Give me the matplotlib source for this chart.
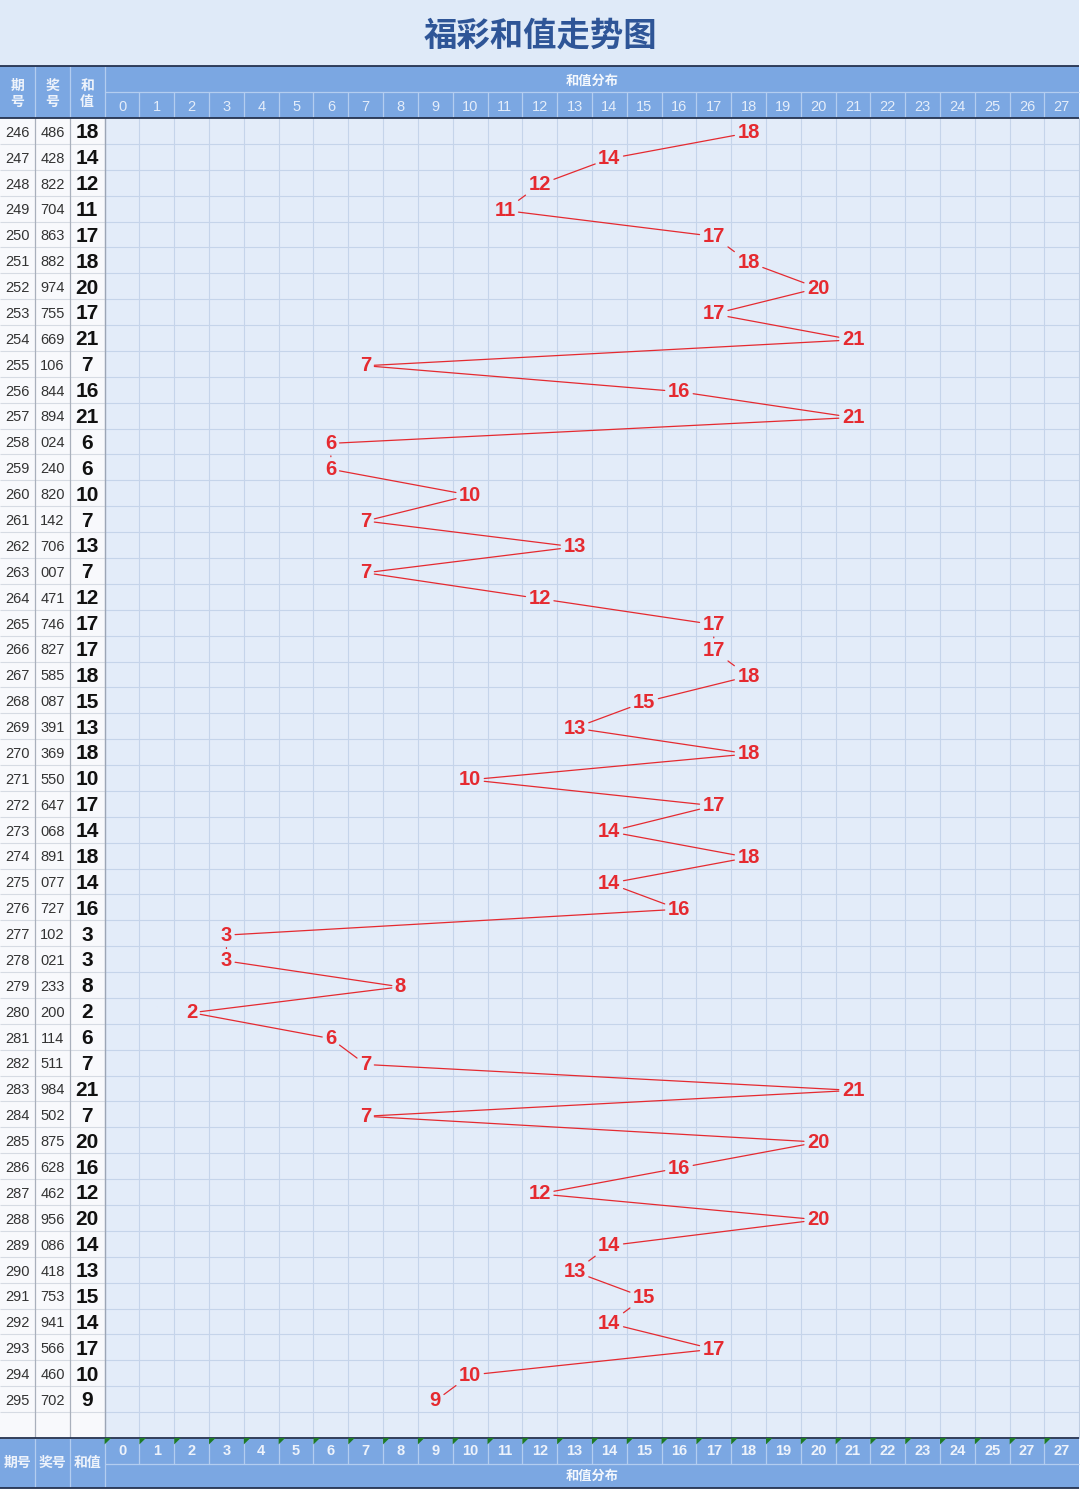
import matplotlib
matplotlib.use('Agg')
import matplotlib.pyplot as plt
from matplotlib.patches import Rectangle, Polygon

# ---------------- data ----------------
periods = list(range(246, 296))
numbers = ['486', '428', '822', '704', '863', '882', '974', '755', '669', '106',
           '844', '894', '024', '240', '820', '142', '706', '007', '471', '746',
           '827', '585', '087', '391', '369', '550', '647', '068', '891', '077',
           '727', '102', '021', '233', '200', '114', '511', '984', '502', '875',
           '628', '462', '956', '086', '418', '753', '941', '566', '460', '702']
sums = [18, 14, 12, 11, 17, 18, 20, 17, 21, 7,
        16, 21, 6, 6, 10, 7, 13, 7, 12, 17,
        17, 18, 15, 13, 18, 10, 17, 14, 18, 14,
        16, 3, 3, 8, 2, 6, 7, 21, 7, 20,
        16, 12, 20, 14, 13, 15, 14, 17, 10, 9]
sum_values = list(range(28))
top_labels = [str(v) for v in sum_values]
bottom_labels = [str(v) for v in range(26)] + ['27', '27']
title = '福彩和值走势图'
left_headers = ['期号', '奖号', '和值']
dist_header = '和值分布'

# ---------------- style ----------------
plt.rcParams['font.family'] = ['Noto Sans CJK SC', 'DejaVu Sans']
NUMFONT = ['Liberation Sans', 'DejaVu Sans']
RED = '#E52A30'
HEAD_BLUE = '#7BA7E2'
GRID_BG = '#E3ECF9'
GRID_LINE = '#C5D4EA'
TITLE_BG = '#DFEAF8'
DARK = '#24324F'

fig = plt.figure(figsize=(10.8, 14.89), dpi=100)
ax = fig.add_axes([0, 0, 1, 1])
ax.axis('off')
colw, rowh = 34.81, 25.88
ax.set_xlim(-122 / colw, (1080 - 122) / colw)
ax.set_ylim((1489 - 131) / rowh, -131 / rowh)
y_top = -131 / rowh
dy = 0.07  # small downward nudge for text centring

n = len(periods)
x_left = -3.5
x_grid0 = -0.5
x_grid1 = len(sum_values) - 0.5
rows_end = n + 0.5          # includes one empty row
foot_top = rows_end
foot_bot = foot_top + 1.92

# title band
ax.add_patch(Rectangle((x_left, y_top), x_grid1 - x_left, -2.5 - y_top, fc=TITLE_BG, ec='none', zorder=0))
ax.text(0.5, 1 - 36 / 1489, title, transform=ax.transAxes, ha='center', va='center', fontsize=24,
        fontweight='bold', color='#2E5597', zorder=5)

# header band
ax.add_patch(Rectangle((x_left, -2.5), x_grid1 - x_left, 2.0, fc=HEAD_BLUE, ec='none', zorder=1))
# footer band
ax.add_patch(Rectangle((x_left, foot_top), x_grid1 - x_left, foot_bot - foot_top, fc=HEAD_BLUE, ec='none', zorder=1))

# left columns background and grid background
ax.add_patch(Rectangle((x_left, -0.5), 3.0, rows_end + 0.5, fc='#F8F9FC', ec='none', zorder=0))
ax.add_patch(Rectangle((x_grid0, -0.5), x_grid1 - x_grid0, rows_end + 0.5, fc=GRID_BG, ec='none', zorder=0))

# grid lines
ax.vlines([k - 0.5 for k in sum_values] + [x_grid1], -0.5, rows_end, colors=GRID_LINE, lw=0.8, zorder=1)
ax.hlines([i + 0.5 for i in range(n + 1)], x_grid0, x_grid1, colors=GRID_LINE, lw=0.8, zorder=1)
ax.hlines([i + 0.5 for i in range(n + 1)], x_left, x_grid0, colors='#D6DBE3', lw=0.8, zorder=1)
ax.vlines([-2.5, -1.5], -0.5, rows_end, colors='#A9B0BC', lw=0.9, zorder=2)
ax.vlines([x_grid0], -0.5, rows_end, colors='#9CA6B6', lw=1.0, zorder=2)
ax.vlines([x_grid1 + 0.01], -0.5, rows_end, colors='#B0B8C6', lw=1.0, zorder=2)

# header/footer inner lines
HL = '#B3CDF0'
ax.vlines([-2.5, -1.5, -0.5], -2.5, -0.5, colors=HL, lw=0.9, zorder=2)
ax.vlines([k - 0.5 for k in sum_values[1:]], -1.5, -0.5, colors=HL, lw=0.9, zorder=2)
ax.hlines([-1.5], x_grid0, x_grid1, colors=HL, lw=0.9, zorder=2)
ax.vlines([-2.5, -1.5, -0.5], foot_top, foot_bot, colors=HL, lw=0.9, zorder=2)
ax.vlines([k - 0.5 for k in sum_values[1:]], foot_top, foot_top + 1, colors=HL, lw=0.9, zorder=2)
ax.hlines([foot_top + 1], x_grid0, x_grid1, colors=HL, lw=0.9, zorder=2)
ax.hlines([-2.5, -0.5, foot_top, foot_bot], x_left, x_grid1, colors=DARK, lw=1.3, zorder=3)

# header texts
for j, lab in enumerate(left_headers):
    ax.text(-3 + j, -1.5 + dy, lab[0] + '\n' + lab[1], ha='center', va='center', fontsize=10,
            fontweight='bold', color='#EEF3FB', linespacing=1.25, zorder=5)
    ax.text(-3 + j, (foot_top + foot_bot) / 2, lab, ha='center', va='center', fontsize=10,
            fontweight='bold', color='#EEF3FB', zorder=5)
ax.text(13.5, -2.0 + dy, dist_header, ha='center', va='center', fontsize=9.5, fontweight='bold',
        color='#F4F8FD', zorder=5)
ax.text(13.5, foot_top + 1.45, dist_header, ha='center', va='center', fontsize=9.5, fontweight='bold',
        color='#F4F8FD', zorder=5)
for v, lt, lb in zip(sum_values, top_labels, bottom_labels):
    ax.text(v, -1.0 + dy, lt, ha='center', va='center', fontsize=10.5, family=NUMFONT,
            color='#E4EDFA', zorder=5)
    ax.text(v, foot_top + 0.5, lb, ha='center', va='center', fontsize=10.5, family=NUMFONT,
            color='#EEF3FB', fontweight='bold', zorder=5)
    tri = Polygon([(v - 0.5, foot_top), (v - 0.5 + 0.19, foot_top), (v - 0.5, foot_top + 0.25)],
                  closed=True, fc='#1E7B25', ec='none', zorder=6)
    ax.add_patch(tri)

# left table texts
for i, (p, num, s) in enumerate(zip(periods, numbers, sums)):
    ax.text(-3, i + dy, str(p), ha='center', va='center', fontsize=10.5, family=NUMFONT, color='#333333', zorder=5)
    ax.text(-2, i + dy, num, ha='center', va='center', fontsize=10.5, family=NUMFONT, color='#333333', zorder=5)
    ax.text(-1, i + dy, str(s), ha='center', va='center', fontsize=15, family=NUMFONT, fontweight='bold',
            color='#111111', zorder=5)

# trend labels
labels = []
for i, s in enumerate(sums):
    t = ax.text(s, i + dy, str(s), ha='center', va='center', fontsize=14.5, family=NUMFONT,
                fontweight='bold', color=RED, zorder=6,
                bbox=dict(boxstyle='square,pad=0.15', fc='none', ec='none'))
    labels.append(t)

# connecting lines, clipped at label boxes
for i in range(n - 1):
    ax.annotate('', xy=(sums[i + 1], i + 1 + dy), xytext=(sums[i], i + dy), zorder=7,
                arrowprops=dict(arrowstyle='-', color=RED, lw=0.9, shrinkA=0, shrinkB=0,
                                patchA=labels[i].get_bbox_patch(),
                                patchB=labels[i + 1].get_bbox_patch()))

fig.savefig('out.png', dpi=100)
